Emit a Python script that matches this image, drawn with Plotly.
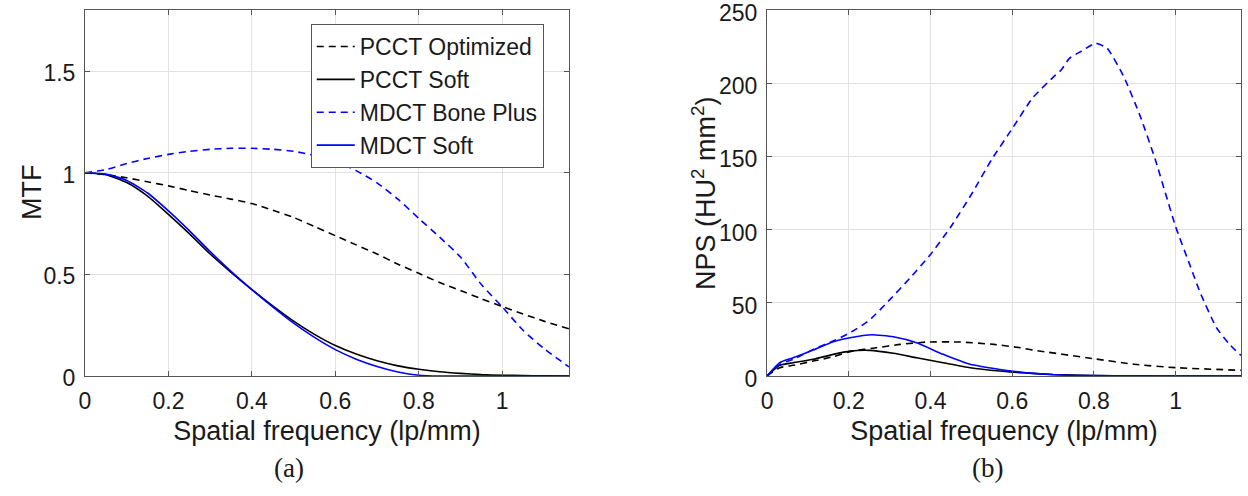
import plotly.graph_objects as go

# ---------------- MTF panel (a) ----------------
mtf_x = [0, 0.05, 0.1, 0.15, 0.2, 0.25, 0.3, 0.35, 0.4, 0.45, 0.5, 0.55, 0.6,
         0.65, 0.7, 0.75, 0.8, 0.85, 0.9, 0.95, 1.0, 1.05, 1.1, 1.16]
mtf_pcct_opt = [1.0, 0.99, 0.975, 0.955, 0.935, 0.912, 0.89, 0.87, 0.848, 0.815,
                0.78, 0.735, 0.69, 0.645, 0.6, 0.55, 0.505, 0.46, 0.42, 0.38,
                0.342, 0.305, 0.27, 0.232]
mtf_pcct_soft = [1.0, 0.99, 0.952, 0.885, 0.795, 0.70, 0.60, 0.51, 0.425, 0.345,
                 0.27, 0.205, 0.15, 0.108, 0.075, 0.05, 0.033, 0.021, 0.013,
                 0.007, 0.004, 0.002, 0.001, 0.0]
mtf_mdct_bone = [1.0, 1.015, 1.045, 1.07, 1.09, 1.105, 1.115, 1.12, 1.12, 1.115,
                 1.105, 1.085, 1.055, 1.01, 0.95, 0.87, 0.775, 0.683, 0.585,
                 0.45, 0.34, 0.225, 0.135, 0.045]
mtf_mdct_soft = [1.0, 0.993, 0.962, 0.90, 0.812, 0.715, 0.612, 0.515, 0.425, 0.34,
                 0.26, 0.19, 0.13, 0.083, 0.047, 0.02, 0.004, 0.0, 0.0, 0.0,
                 0.0, 0.0, 0.0, 0.0]

# ---------------- NPS panel (b) ----------------
nps_bone_x = [0, 0.031, 0.064, 0.113, 0.162, 0.203, 0.25, 0.3, 0.35, 0.4, 0.45,
              0.5, 0.55, 0.6, 0.65, 0.7, 0.72, 0.74, 0.77, 0.804, 0.832, 0.873,
              0.914, 0.95, 1.0, 1.036, 1.06, 1.1, 1.134, 1.16]
nps_bone = [0, 8.0, 11.4, 18.2, 23.9, 29.5, 38, 52, 67, 83, 102, 124, 148, 169,
            190, 204, 209, 217, 222, 227.3, 224, 204.5, 177, 148, 102, 75, 57,
            33, 21, 14]
nps_mdct_soft_x = [0, 0.031, 0.064, 0.113, 0.162, 0.203, 0.256, 0.309, 0.366,
                   0.431, 0.497, 0.57, 0.619, 0.652, 0.7, 0.8, 0.9, 1.0, 1.16]
nps_mdct_soft = [0, 9.1, 12.5, 17.7, 23.4, 26.1, 28.2, 26.8, 22.7, 14.8, 8.0,
                 4.5, 2.7, 1.8, 0.9, 0.3, 0.1, 0.0, 0.0]
nps_pcct_soft_x = [0, 0.031, 0.064, 0.113, 0.162, 0.203, 0.252, 0.309, 0.366,
                   0.431, 0.497, 0.57, 0.619, 0.7, 0.8, 0.9, 1.0, 1.16]
nps_pcct_soft = [0, 7.3, 9.1, 11.4, 14.8, 17.0, 17.5, 15.5, 12.5, 9.1, 5.7, 3.4,
                 2.3, 1.0, 0.3, 0.1, 0.0, 0.0]
nps_pcct_opt_x = [0, 0.031, 0.064, 0.113, 0.162, 0.208, 0.268, 0.326, 0.391,
                  0.473, 0.555, 0.62, 0.652, 0.8, 0.898, 1.0, 1.16]
nps_pcct_opt = [0, 5.7, 7.3, 10.2, 13.2, 17.0, 19.3, 21.6, 23.2, 23.2, 21.6,
                19.3, 17.7, 11.8, 8.0, 5.7, 3.9]

x_ticks = [0, 0.2, 0.4, 0.6, 0.8, 1.0]
x_ticktext = ["0", "0.2", "0.4", "0.6", "0.8", "1"]
mtf_ticks = [0, 0.5, 1.0, 1.5]
mtf_ticktext = ["0", "0.5", "1", "1.5"]
nps_ticks = [0, 50, 100, 150, 200, 250]

names = ["PCCT Optimized", "PCCT Soft", "MDCT Bone Plus", "MDCT Soft"]
colors = ["black", "black", "#0000ff", "#0000ff"]
dashes = ["7px,5px", "solid", "7px,5px", "solid"]

SANS = "Liberation Sans, Arial, Helvetica, sans-serif"
SERIF = "Liberation Serif, Times New Roman, serif"

fig = go.Figure()

mtf_series = [mtf_pcct_opt, mtf_pcct_soft, mtf_mdct_bone, mtf_mdct_soft]
for name, ys, c, d in zip(names, mtf_series, colors, dashes):
    fig.add_trace(go.Scatter(x=mtf_x, y=ys, mode="lines", name=name,
                             line=dict(color=c, dash=d, width=1.6, shape="spline", smoothing=0.6),
                             xaxis="x", yaxis="y", showlegend=True))

nps_series = [(nps_pcct_opt_x, nps_pcct_opt), (nps_pcct_soft_x, nps_pcct_soft),
              (nps_bone_x, nps_bone), (nps_mdct_soft_x, nps_mdct_soft)]
for name, (xs, ys), c, d in zip(names, nps_series, colors, dashes):
    fig.add_trace(go.Scatter(x=xs, y=ys, mode="lines", name=name,
                             line=dict(color=c, dash=d, width=1.6, shape="spline", smoothing=0.5),
                             xaxis="x2", yaxis="y2", showlegend=False))

axis_common = dict(showgrid=True, gridcolor="#e2e2e2", gridwidth=1,
                   showline=True, linecolor="#555555", linewidth=1, mirror="ticks",
                   ticks="inside", ticklen=5, tickcolor="#555555",
                   zeroline=False, automargin=False, ticklabeloverflow="allow",
                   tickfont=dict(family=SANS, size=23, color="#1a1a1a"))
title_font = dict(family=SANS, size=27, color="#1a1a1a")

fig.update_layout(
    width=1248, height=496, autosize=False,
    margin=dict(l=0, r=0, t=0, b=0, pad=0),
    paper_bgcolor="white", plot_bgcolor="white",
    xaxis=dict(domain=[0.0681, 0.4559], range=[0, 1.16], tickvals=x_ticks, ticktext=x_ticktext,
               ticklabelstandoff=4,
               title=dict(text="Spatial frequency (lp/mm)", font=title_font, standoff=8),
               anchor="y", **axis_common),
    yaxis=dict(domain=[0.2419, 0.9798], range=[0, 1.8], tickvals=mtf_ticks, ticktext=mtf_ticktext,
               ticklabelstandoff=4, ticklabelshift=2, anchor="x", **axis_common),
    xaxis2=dict(domain=[0.6146, 0.9944], range=[0, 1.16], tickvals=x_ticks, ticktext=x_ticktext,
                ticklabelstandoff=4,
                title=dict(text="Spatial frequency (lp/mm)", font=title_font, standoff=8),
                anchor="y2", **axis_common),
    yaxis2=dict(domain=[0.2419, 0.9798], range=[0, 250], tickvals=nps_ticks,
                ticklabelstandoff=4, ticklabelshift=3, anchor="x2", **axis_common),
    legend=dict(x=0.249, y=0.9516, xanchor="left", yanchor="top",
                bgcolor="white", bordercolor="#555555", borderwidth=1,
                font=dict(family=SANS, size=23, color="#1a1a1a"),
                itemwidth=38, traceorder="normal", tracegroupgap=0),
    annotations=[
        dict(text="MTF", x=32 / 1248, y=0.6109, xref="paper", yref="paper",
             xanchor="center", yanchor="middle", textangle=-90,
             showarrow=False, font=title_font),
        dict(text="NPS (HU<sup>2</sup> mm<sup>2</sup>)", x=704 / 1248, y=0.6109,
             xref="paper", yref="paper", xanchor="center", yanchor="middle",
             textangle=-90, showarrow=False, font=title_font),
        dict(text="(a)", x=0.2316, y=0.0565, xref="paper", yref="paper",
             xanchor="center", yanchor="middle",
             showarrow=False, font=dict(family=SERIF, size=27, color="#1a1a1a")),
        dict(text="(b)", x=0.7909, y=0.0565, xref="paper", yref="paper",
             xanchor="center", yanchor="middle",
             showarrow=False, font=dict(family=SERIF, size=27, color="#1a1a1a")),
    ],
)

fig.write_html(
    "out.html",
    config={"displayModeBar": False},
    post_script="document.body.style.margin='0';document.body.style.padding='0';"
                "document.documentElement.style.overflow='hidden';",
)
